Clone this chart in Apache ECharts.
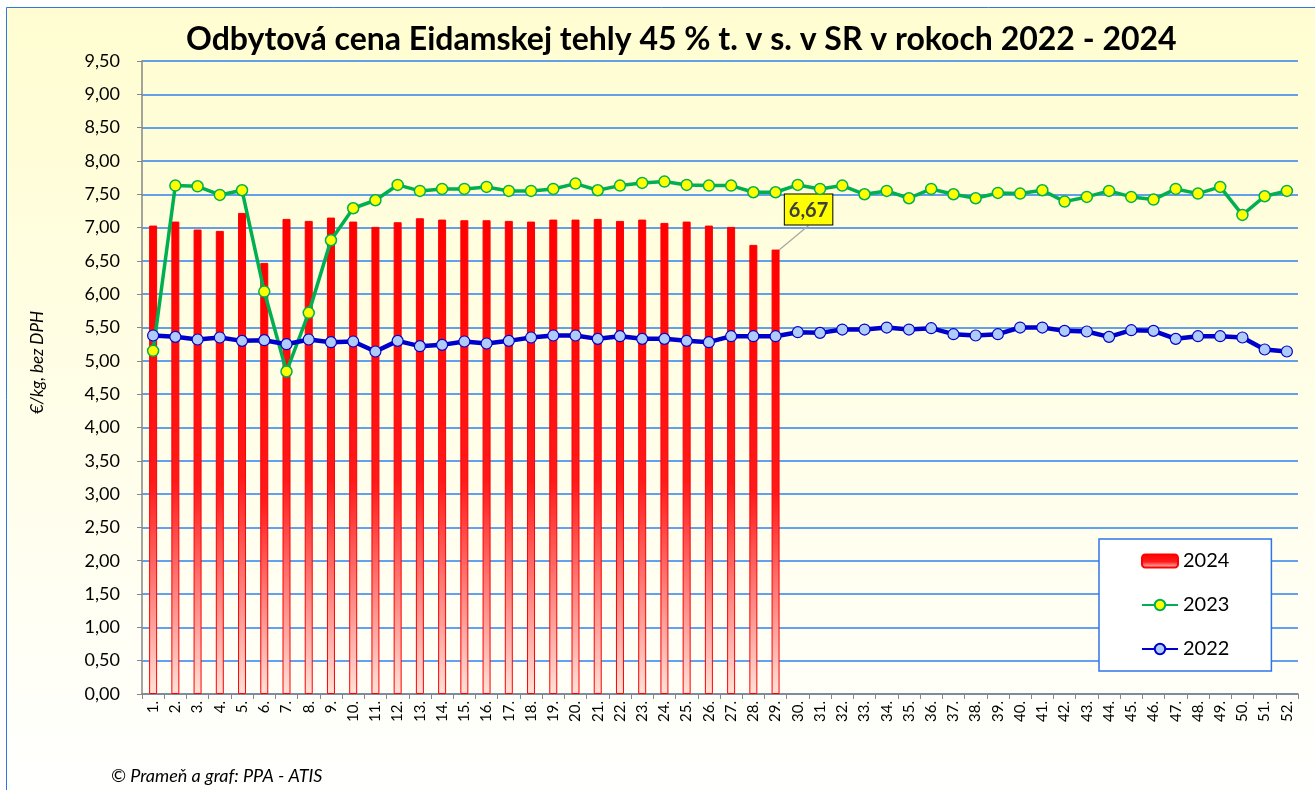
<!DOCTYPE html>
<html>
<head>
<meta charset="utf-8">
<title>Odbytová cena Eidamskej tehly</title>
<script src="https://cdn.jsdelivr.net/npm/echarts@6/dist/echarts.min.js"></script>
<style>
  html, body { margin: 0; padding: 0; background: #fff; }
  #chart { width: 1315px; height: 790px; }
</style>
</head>
<body>
<div id="chart"></div>
<script>
// týždne 1. - 52.
var weeks = [];
for (var w = 1; w <= 52; w++) weeks.push(w + '.');

// 2024 - stĺpce (zatiaľ 29 týždňov)
var data2024 = [7.03, 7.09, 6.97, 6.95, 7.22, 6.47, 7.13, 7.10, 7.15, 7.09,
                7.01, 7.08, 7.14, 7.12, 7.11, 7.11, 7.10, 7.09, 7.12, 7.12,
                7.13, 7.10, 7.12, 7.07, 7.09, 7.03, 7.01, 6.74, 6.67];

// 2023 - zelená čiara
var data2023 = [5.15, 7.63, 7.62, 7.49, 7.56, 6.04, 4.84, 5.72, 6.81, 7.29,
                7.41, 7.64, 7.55, 7.58, 7.58, 7.61, 7.55, 7.55, 7.58, 7.66,
                7.56, 7.63, 7.67, 7.69, 7.64, 7.63, 7.63, 7.53, 7.53, 7.64,
                7.58, 7.63, 7.50, 7.55, 7.44, 7.58, 7.50, 7.44, 7.52, 7.51,
                7.56, 7.39, 7.46, 7.55, 7.46, 7.42, 7.58, 7.51, 7.61, 7.19,
                7.47, 7.55];

// 2022 - modrá čiara
var data2022 = [5.38, 5.36, 5.32, 5.35, 5.30, 5.31, 5.25, 5.32, 5.28, 5.29,
                5.14, 5.30, 5.22, 5.24, 5.29, 5.26, 5.30, 5.35, 5.38, 5.38,
                5.33, 5.37, 5.33, 5.33, 5.30, 5.28, 5.37, 5.37, 5.37, 5.43,
                5.42, 5.47, 5.47, 5.50, 5.47, 5.49, 5.40, 5.38, 5.40, 5.50,
                5.50, 5.45, 5.44, 5.36, 5.46, 5.45, 5.33, 5.37, 5.37, 5.35,
                5.17, 5.14];

var font = 'Lato';
var lastIdx = data2024.length - 1;

// stĺpce 2024, posledný s popisom
var bars = data2024.map(function (v, i) {
    if (i !== lastIdx) return v;
    return {
        value: v,
        label: {
            show: true,
            position: 'top',
            formatter: function (p) { return p.value.toFixed(2).replace('.', ','); },
            fontFamily: font,
            fontWeight: 'bold',
            fontSize: 20,
            color: '#404040',
            backgroundColor: '#FFFF00',
            borderColor: '#000',
            borderWidth: 1,
            padding: [6, 4, 4, 4]
        },
        labelLine: { show: true, lineStyle: { color: '#A6A6A6', width: 1.2 } }
    };
});

var chart = echarts.init(document.getElementById('chart'));

var option = {
    backgroundColor: '#fff',
    animation: false,
    // pozadie s rámikom
    graphic: [{
        type: 'rect',
        z: -10,
        left: 6, top: 7,
        shape: { width: 1330, height: 800 },
        style: {
            fill: new echarts.graphic.LinearGradient(0, 0, 0, 1, [
                { offset: 0, color: '#FFFDD0' },
                { offset: 1, color: '#FFFFFF' }
            ]),
            stroke: '#2F75E8',
            lineWidth: 1
        }
    }],
    title: [{
        text: 'Odbytová cena Eidamskej tehly 45 % t. v s. v SR v rokoch 2022 - 2024',
        left: 181,
        top: 19,
        textStyle: { fontFamily: font, fontWeight: 'bold', fontSize: 32, color: '#000' }
    }, {
        text: '© Prameň a graf: PPA - ATIS',
        left: 106,
        top: 762,
        textStyle: { fontFamily: font, fontStyle: 'italic', fontWeight: 'normal', fontSize: 18, color: '#000' }
    }],
    legend: {
        orient: 'vertical',
        left: 1099,
        top: 539,
        padding: [12, 42, 12, 42],
        itemGap: 24,
        itemWidth: 36,
        itemHeight: 13,
        backgroundColor: '#fff',
        borderColor: '#2F75E8',
        borderWidth: 1.5,
        borderRadius: 0,
        textStyle: { fontFamily: font, fontSize: 20, color: '#000' },
        data: ['2024', '2023', '2022']
    },
    grid: { left: 142, right: 17, top: 61, bottom: 96 },
    xAxis: {
        type: 'category',
        data: weeks,
        axisLine: { lineStyle: { color: '#868686', width: 1.5 } },
        axisTick: { show: true, length: 5, lineStyle: { color: '#868686' } },
        axisLabel: {
            interval: 0,
            rotate: 90,
            margin: 7,
            fontFamily: font,
            fontSize: 15,
            color: '#000'
        }
    },
    yAxis: {
        type: 'value',
        min: 0,
        max: 9.5,
        interval: 0.5,
        name: '€/kg, bez DPH',
        nameLocation: 'middle',
        nameGap: 96,
        nameTextStyle: {
            fontFamily: font, fontStyle: 'italic', fontSize: 17, color: '#000',
            padding: [0, 0, 0, 30]
        },
        axisLine: { show: true, lineStyle: { color: '#868686', width: 1.5 } },
        axisTick: { show: true, length: 5, lineStyle: { color: '#868686' } },
        axisLabel: {
            margin: 22,
            fontFamily: font,
            fontSize: 18,
            color: '#000',
            formatter: function (v) { return v.toFixed(2).replace('.', ','); }
        },
        splitLine: { lineStyle: { color: '#2F80ED', width: 1.5 } }
    },
    series: [{
        name: '2024',
        type: 'bar',
        barWidth: 8,
        data: bars,
        itemStyle: {
            color: new echarts.graphic.LinearGradient(0, 0, 0, 1, [
                { offset: 0, color: '#FF0000' },
                { offset: 0.55, color: '#FF1A1A' },
                { offset: 1, color: '#FFE2D8' }
            ]),
            borderColor: '#FF0000',
            borderWidth: 1
        },
        labelLayout: function (p) {
            if (p.dataIndex === lastIdx) return { dx: 33, dy: -20 };
        }
    }, {
        name: '2023',
        type: 'line',
        data: data2023,
        symbol: 'circle',
        symbolSize: 11,
        lineStyle: { color: '#00B050', width: 3.5 },
        itemStyle: { color: '#FFFF00', borderColor: '#00B050', borderWidth: 1.5 }
    }, {
        name: '2022',
        type: 'line',
        data: data2022,
        symbol: 'circle',
        symbolSize: 11,
        lineStyle: { color: '#0000CC', width: 4.5 },
        itemStyle: { color: '#AFCBFA', borderColor: '#0000CC', borderWidth: 1.2 }
    }]
};

chart.setOption(option);
</script>
</body>
</html>
